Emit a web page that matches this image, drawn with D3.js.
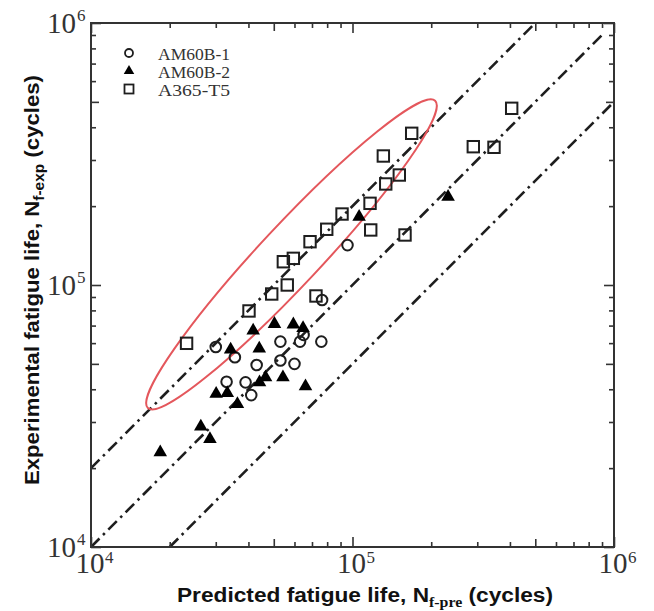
<!DOCTYPE html>
<html><head><meta charset="utf-8">
<script src="https://cdn.jsdelivr.net/npm/d3@7"></script>
<style>body{margin:0;background:#fff}</style>
</head><body>
<svg id="c" width="654" height="611"></svg>
<script>
const seriesNames = ["AM60B-1", "AM60B-2", "A365-T5"];
const am60b1Pred = [30000, 35500, 33000, 39000, 41000, 43000, 53000, 63000, 76000, 65000, 53000, 60000, 76500, 95700];
const am60b1Exp  = [58000, 53000, 42700, 42500, 38000, 49500, 60800, 60800, 60800, 64500, 51500, 50000, 87600, 142000];
const am60b2Pred = [18400, 26300, 28500, 30100, 33200, 36300, 34200, 41700, 44000, 50300, 59400, 64700, 44100, 46500, 54200, 66100, 106000, 232000];
const am60b2Exp  = [23000, 28800, 25800, 38400, 38700, 35100, 56700, 67000, 57200, 71000, 70700, 68500, 42500, 44400, 44400, 41000, 182000, 217000];
const a365Pred = [23200, 40200, 49100, 56300, 54400, 59400, 68800, 79700, 91200, 72500, 116700, 117400, 131200, 134000, 151000, 158800, 168400, 289700, 347600, 406200];
const a365Exp  = [59900, 79600, 92400, 100000, 122700, 126400, 146300, 163200, 186600, 90800, 205000, 162200, 310700, 243000, 262900, 155200, 379300, 337200, 335400, 472500];
const refRatios = [2, 1, 0.5];
const refStart = [1e4, 1e4, 2e4];
const refEnd = [5e5, 9e5, 1e6];
const majorTicks = [1e4, 1e5, 1e6];
const majorExp = ["4", "5", "6"];
const midTicks = [5e4, 5e5];
const minorTicks = [2e4, 3e4, 4e4, 6e4, 7e4, 8e4, 9e4, 2e5, 3e5, 4e5, 6e5, 7e5, 8e5, 9e5];
const ellipseTips = [[16500, 33900], [207000, 505000]];

const svg = d3.select("#c");
const L = 91, R = 614, T = 23, B = 547;
const x = d3.scaleLog().domain([1e4, 1e6]).range([L, R]);
const y = d3.scaleLog().domain([1e4, 1e6]).range([B, T]);
const ink = "#1e1e1e";

// reference lines
const dash = "12,5,2.5,5";
refRatios.forEach((k, i) => {
  const xs = [refStart[i], refEnd[i]];
  svg.append("path")
    .attr("d", d3.line()(xs.map(v => [x(v), y(v * k)])))
    .attr("stroke", ink).attr("stroke-width", 2.6).attr("fill", "none")
    .attr("stroke-dasharray", dash);
});

// ellipse
{
  const p1 = [x(ellipseTips[0][0]), y(ellipseTips[0][1])];
  const p2 = [x(ellipseTips[1][0]), y(ellipseTips[1][1])];
  const cx = (p1[0] + p2[0]) / 2, cy = (p1[1] + p2[1]) / 2;
  const a = Math.hypot(p2[0] - p1[0], p2[1] - p1[1]) / 2;
  const ang = Math.atan2(p2[1] - p1[1], p2[0] - p1[0]) * 180 / Math.PI;
  svg.append("ellipse").attr("cx", 0).attr("cy", 0).attr("rx", a).attr("ry", 30)
    .attr("transform", `translate(${cx},${cy}) rotate(${ang})`)
    .attr("fill", "none").attr("stroke", "#e4575c").attr("stroke-width", 2);
}

// markers
const pts = (px, py) => px.map((v, i) => [x(v), y(py[i])]);
svg.append("g").selectAll("circle").data(pts(am60b1Pred, am60b1Exp)).join("circle")
  .attr("cx", d => d[0]).attr("cy", d => d[1]).attr("r", 5.3)
  .attr("fill", "none").attr("stroke", ink).attr("stroke-width", 2);
const tri = d3.symbol(d3.symbolTriangle, 80)();
svg.append("g").selectAll("path").data(pts(am60b2Pred, am60b2Exp)).join("path")
  .attr("d", tri).attr("transform", d => `translate(${d[0]},${d[1]})`).attr("fill", "#000");
svg.append("g").selectAll("rect").data(pts(a365Pred, a365Exp)).join("rect")
  .attr("x", d => d[0] - 5.7).attr("y", d => d[1] - 5.7).attr("width", 11.4).attr("height", 11.4)
  .attr("fill", "none").attr("stroke", ink).attr("stroke-width", 2);

// frame
svg.append("rect").attr("x", L).attr("y", T).attr("width", R - L).attr("height", B - T)
  .attr("fill", "none").attr("stroke", "#333").attr("stroke-width", 2);

// ticks (inward)
function ticks(vals, len) {
  const mk = (axis, tr) => svg.append("g").attr("transform", tr)
    .call(axis.tickValues(vals).tickSize(len).tickFormat(""))
    .call(g => { g.select(".domain").remove(); g.selectAll("line").attr("stroke", "#333").attr("stroke-width", 1.6); });
  mk(d3.axisTop(x), `translate(0,${B})`);
  mk(d3.axisBottom(x), `translate(0,${T})`);
  mk(d3.axisRight(y), `translate(${L},0)`);
  mk(d3.axisLeft(y), `translate(${R},0)`);
}
ticks(majorTicks, 10);
ticks(midTicks, 8);
ticks(minorTicks, 5);

// tick labels
const serif = "'Liberation Serif', 'Times New Roman', serif";
majorTicks.forEach((v, i) => {
  svg.append("text").attr("x", 76).attr("y", y(v) + 9.5).attr("text-anchor", "end")
    .attr("font-family", serif).attr("font-size", 29).attr("fill", "#333").text("10");
  svg.append("text").attr("x", 77).attr("y", y(v) - 2)
    .attr("font-family", serif).attr("font-size", 17).attr("fill", "#333").text(majorExp[i]);
  svg.append("text").attr("x", x(v) - 1).attr("y", 573).attr("text-anchor", "middle")
    .attr("font-family", serif).attr("font-size", 29).attr("fill", "#333").text("10");
  svg.append("text").attr("x", x(v) + 14).attr("y", 563)
    .attr("font-family", serif).attr("font-size", 17).attr("fill", "#333").text(majorExp[i]);
});

// legend
const lg = svg.append("g");
const legY = [53, 71, 89];
lg.append("circle").attr("cx", 129).attr("cy", legY[0]).attr("r", 4)
  .attr("fill", "none").attr("stroke", ink).attr("stroke-width", 1.8);
lg.append("path").attr("d", d3.symbol(d3.symbolTriangle, 48)()).attr("transform", `translate(129,${legY[1]})`).attr("fill", "#000");
lg.append("rect").attr("x", 124.5).attr("y", legY[2] - 4.5).attr("width", 9).attr("height", 9)
  .attr("fill", "none").attr("stroke", ink).attr("stroke-width", 1.8);
seriesNames.forEach((n, i) => {
  lg.append("text").attr("x", 158).attr("y", legY[i] + 6.5)
    .attr("font-family", serif).attr("font-size", 17).attr("fill", "#333")
    .attr("textLength", 72).attr("lengthAdjust", "spacingAndGlyphs").text(n);
});

// axis titles
const sans = "Arial, 'Liberation Sans', sans-serif";
const yt = svg.append("text").attr("transform", "translate(39,280) rotate(-90)")
  .attr("text-anchor", "middle").attr("font-family", sans).attr("font-weight", "bold")
  .attr("font-size", 20).attr("fill", "#111")
  .attr("textLength", 410).attr("lengthAdjust", "spacingAndGlyphs");
yt.append("tspan").text("Experimental fatigue life, N");
yt.append("tspan").attr("dy", 5).attr("font-size", 14).text("f-exp");
yt.append("tspan").attr("dy", -5).text(" (cycles)");

const xt = svg.append("text").attr("x", 365).attr("y", 602)
  .attr("text-anchor", "middle").attr("font-family", sans).attr("font-weight", "bold")
  .attr("font-size", 20).attr("fill", "#111")
  .attr("textLength", 376).attr("lengthAdjust", "spacingAndGlyphs");
xt.append("tspan").text("Predicted fatigue life, N");
xt.append("tspan").attr("dy", 5).attr("font-size", 14).attr("font-family", serif).text("f-pre");
xt.append("tspan").attr("dy", -5).text(" (cycles)");
</script>
</body></html>
